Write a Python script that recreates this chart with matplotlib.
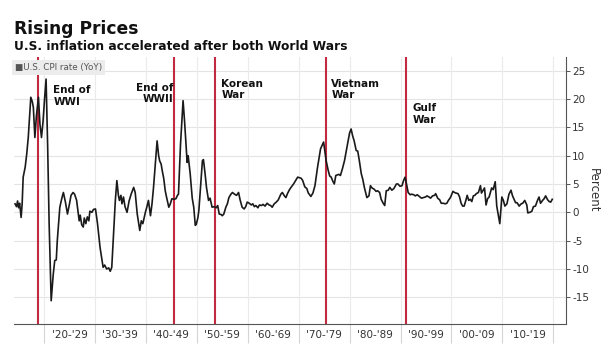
import matplotlib
matplotlib.use("Agg")
import matplotlib.pyplot as plt

# ---------------------------
# Data
# ---------------------------
years = [
    1914.3, 1914.6, 1914.8, 1915.0, 1915.2, 1915.5, 1915.7, 1915.9, 1916.3, 1916.6,
    1916.9, 1917.2, 1917.4, 1917.7, 1917.9, 1918.2, 1918.5, 1918.9, 1919.2, 1919.5,
    1919.8, 1920.1, 1920.4, 1920.7, 1921.0, 1921.4, 1921.8, 1922.1, 1922.4, 1922.6,
    1923.1, 1923.5, 1923.8, 1924.2, 1924.6, 1925.0, 1925.3, 1925.7, 1926.0, 1926.4,
    1926.9, 1927.1, 1927.4, 1927.7, 1927.9, 1928.2, 1928.5, 1928.8, 1929.0, 1929.4,
    1929.7, 1930.1, 1930.5, 1931.0, 1931.6, 1931.9, 1932.3, 1932.7, 1933.0, 1933.3,
    1934.0, 1934.3, 1934.6, 1934.8, 1935.1, 1935.3, 1935.6, 1935.9, 1936.3, 1936.7,
    1937.1, 1937.6, 1937.9, 1938.3, 1938.8, 1939.1, 1939.4, 1939.9, 1940.2, 1940.5,
    1940.9, 1941.2, 1941.5, 1941.9, 1942.2, 1942.5, 1942.7, 1943.0, 1943.2, 1943.5,
    1943.8, 1944.1, 1944.5, 1944.8, 1945.1, 1945.5, 1945.9, 1946.2, 1946.4, 1946.8,
    1947.3, 1947.6, 1947.9, 1948.1, 1948.3, 1948.7, 1949.1, 1949.4, 1949.7, 1949.9,
    1950.2, 1950.4, 1950.7, 1951.1, 1951.3, 1951.6, 1951.9, 1952.3, 1952.6, 1953.0,
    1953.4, 1953.8, 1954.1, 1954.4, 1954.8, 1955.0, 1955.3, 1955.7, 1956.0, 1956.3,
    1956.7, 1957.0, 1957.4, 1957.8, 1958.2, 1958.5, 1958.9, 1959.3, 1959.6, 1959.9,
    1960.3, 1960.7, 1961.0, 1961.3, 1961.6, 1962.0, 1962.3, 1962.7, 1963.0, 1963.4,
    1963.8, 1964.2, 1964.5, 1964.8, 1965.2, 1965.6, 1966.0, 1966.5, 1966.8, 1967.2,
    1967.5, 1967.8, 1968.2, 1968.5, 1969.0, 1969.4, 1969.8, 1970.2, 1970.5, 1970.8,
    1971.2, 1971.6, 1971.9, 1972.4, 1972.8, 1973.2, 1973.7, 1974.0, 1974.3, 1974.6,
    1974.9, 1975.2, 1975.4, 1975.8, 1976.1, 1976.4, 1976.7, 1977.0, 1977.3, 1977.6,
    1977.9, 1978.2, 1978.6, 1979.0, 1979.6, 1980.0, 1980.3, 1980.6, 1980.9, 1981.3,
    1981.6, 1981.9, 1982.3, 1982.6, 1982.9, 1983.4, 1983.8, 1984.1, 1984.4, 1984.8,
    1985.2, 1985.5, 1985.9, 1986.2, 1986.6, 1986.9, 1987.2, 1987.6, 1987.9, 1988.3,
    1988.7, 1989.2, 1989.5, 1989.9, 1990.3, 1990.6, 1990.9, 1991.2, 1991.5, 1991.9,
    1992.2, 1992.6, 1992.9, 1993.3, 1993.7, 1994.1, 1994.5, 1994.9, 1995.2, 1995.6,
    1995.9, 1996.3, 1996.7, 1996.9, 1997.3, 1997.7, 1998.0, 1998.4, 1998.8, 1999.1,
    1999.4, 1999.8, 2000.3, 2000.6, 2000.9, 2001.3, 2001.6, 2001.9, 2002.2, 2002.5,
    2002.8, 2003.1, 2003.4, 2003.7, 2004.0, 2004.3, 2004.6, 2004.9, 2005.3, 2005.7,
    2005.9, 2006.3, 2006.5, 2006.8, 2007.1, 2007.4, 2007.9, 2008.2, 2008.6, 2008.9,
    2009.2, 2009.5, 2009.9, 2010.2, 2010.5, 2010.9, 2011.3, 2011.7, 2012.0, 2012.3,
    2012.6, 2012.9, 2013.3, 2013.7, 2014.0, 2014.4, 2014.8, 2015.0, 2015.4, 2015.8,
    2016.1, 2016.5, 2016.9, 2017.2, 2017.5, 2017.9, 2018.2, 2018.5, 2018.9, 2019.2,
    2019.5, 2019.8,
]
cpi_yoy = [
    1.5, 1.0, 2.0, 0.8, 1.6, -0.9, 1.5, 6.2, 8.0, 10.3,
    13.2, 17.5, 20.3, 19.5, 18.5, 13.2, 17.0, 20.3, 15.5, 13.2,
    16.0, 20.0, 23.5, 12.0, -2.0, -15.6, -11.0, -8.5, -8.4, -5.0,
    0.9, 2.5, 3.5, 1.8, -0.3, 1.5, 3.0, 3.5, 3.2, 2.1,
    -1.5, -0.5, -2.2, -2.6, -1.0, -2.0, -0.8, -1.5, 0.2, 0.0,
    0.5, 0.6, -2.0, -6.2, -9.7, -9.3, -10.0, -9.8, -10.4, -9.7,
    2.1, 5.6, 3.0, 2.1, 3.0, 1.5, 2.7, 1.0, 0.0, 2.0,
    3.2, 4.4, 3.5, -0.3, -3.2, -1.5, -2.0, 0.0, 1.0, 2.1,
    -0.6, 1.5, 4.4, 9.0, 12.6, 10.0, 9.1, 8.5, 7.4, 6.0,
    3.8, 2.5, 0.9, 1.5, 2.4, 2.3, 2.4, 3.0, 3.2, 12.0,
    19.7, 16.0, 11.5, 8.8, 10.0, 6.8, 2.5, 0.9, -2.3, -2.1,
    -1.0, 0.3, 4.0, 9.1, 9.3, 7.0, 4.4, 2.1, 2.5, 0.9,
    1.0, 0.8, 1.2, -0.3, -0.4, -0.6, -0.3, 0.9, 1.5, 2.6,
    3.2, 3.5, 3.2, 3.0, 3.5, 2.2, 0.9, 0.6, 1.0, 1.8,
    1.6, 1.3, 1.5, 1.0, 1.2, 0.8, 1.3, 1.2, 1.4, 1.1,
    1.6, 1.3, 1.2, 0.9, 1.5, 1.8, 2.2, 3.2, 3.5, 2.9,
    2.6, 3.3, 4.0, 4.4, 5.0, 5.6, 6.2, 6.1, 6.0, 5.6,
    4.5, 4.2, 3.4, 2.8, 3.4, 4.7, 7.9, 9.5, 11.2, 11.8,
    12.4, 10.5, 9.1, 7.4, 6.4, 6.2, 5.5, 5.0, 6.5, 6.6,
    6.7, 6.5, 7.7, 9.1, 12.1, 14.0, 14.7, 13.5, 12.6, 10.9,
    10.8, 9.2, 6.8, 5.8, 4.4, 2.6, 2.9, 4.7, 4.3, 4.1,
    3.7, 3.8, 3.5, 2.3, 1.6, 1.2, 3.8, 3.9, 4.4, 3.9,
    4.2, 5.0, 5.0, 4.6, 4.7, 5.6, 6.2, 4.9, 3.5, 3.1,
    3.2, 3.1, 2.9, 3.1, 2.8, 2.5, 2.6, 2.7, 2.9, 2.7,
    2.5, 2.9, 3.0, 3.3, 2.5, 2.2, 1.6, 1.6, 1.5, 1.6,
    2.1, 2.6, 3.7, 3.5, 3.4, 3.3, 2.7, 1.6, 1.1, 1.1,
    2.0, 3.0, 2.1, 2.3, 1.9, 2.9, 3.0, 3.3, 3.5, 4.7,
    3.4, 4.0, 4.3, 1.3, 2.4, 2.7, 4.3, 4.0, 5.4, 1.1,
    -0.4, -2.0, 2.7, 2.1, 1.1, 1.5, 3.2, 3.9, 2.9, 2.3,
    1.7, 1.7, 1.1, 1.5, 1.6, 2.1, 1.3, -0.1, 0.0, 0.2,
    1.0, 1.1, 2.1, 2.7, 1.6, 2.1, 2.4, 2.9, 2.2, 1.9,
    1.8, 2.3,
]

war_ends = [1918.9, 1945.5, 1953.6, 1975.4, 1991.1]
war_labels = ["End of\nWWI", "End of\nWWII", "Korean\nWar", "Vietnam\nWar", "Gulf\nWar"]
label_x = [1921.8, 1945.5, 1954.8, 1976.4, 1992.3]
label_y = [22.4, 22.9, 23.6, 23.6, 19.2]
label_ha = ["left", "right", "left", "left", "left"]

decade_labels = ["'20-'29", "'30-'39", "'40-'49", "'50-'59", "'60-'69",
                 "'70-'79", "'80-'89", "'90-'99", "'00-'09", "'10-'19"]
decade_starts = [1920, 1930, 1940, 1950, 1960, 1970, 1980, 1990, 2000, 2010, 2020]
y_ticks = [-15, -10, -5, 0, 5, 10, 15, 20, 25]

# ---------------------------
# Figure
# ---------------------------
fig = plt.figure(figsize=(6.05, 3.53), dpi=100)
fig.patch.set_facecolor("white")
ax = fig.add_axes([14 / 605, 1 - 324 / 353, (566 - 14) / 605, (324 - 57) / 353])

ax.set_xlim(1914.1, 2022.5)
ax.set_ylim(-19.7, 27.4)

# grid
for y in y_ticks:
    ax.axhline(y, color="#e4e4e4", lw=0.8, zorder=0)
for d in decade_starts:
    ax.axvline(d, color="#ebebeb", lw=0.8, zorder=0)

# war markers
for w in war_ends:
    ax.axvline(w, color="#c22a42", lw=1.5, zorder=2)

ax.plot(years, cpi_yoy, color="#1a1a1a", lw=1.2, zorder=3)

for txt, x, y, ha in zip(war_labels, label_x, label_y, label_ha):
    ax.text(x, y, txt, ha=ha, va="top", fontsize=7.5, fontweight="bold",
            color="#111111", multialignment=ha, zorder=4)

# spines
for s in ["top", "left"]:
    ax.spines[s].set_visible(False)
ax.spines["bottom"].set_color("#555555")
ax.spines["right"].set_color("#555555")
ax.spines["bottom"].set_linewidth(0.8)
ax.spines["right"].set_linewidth(0.8)

# y axis on the right
ax.yaxis.tick_right()
ax.yaxis.set_label_position("right")
ax.set_yticks(y_ticks)
ax.set_yticklabels([str(v) for v in y_ticks])
ax.tick_params(axis="y", direction="out", length=3, width=0.7, color="#555555",
               labelsize=7.5, labelcolor="#333333", pad=1.5)
ax.set_ylabel("Percent", rotation=270, fontsize=8.5, color="#333333", labelpad=8)

# x axis: labels centered in each decade, separators at decade starts
ax.set_xticks([d + 5 for d in decade_starts[:-1]])
ax.set_xticklabels(decade_labels)
ax.set_xticks(decade_starts, minor=True)
ax.tick_params(axis="x", which="major", length=0, labelsize=7.5,
               labelcolor="#333333", pad=4)
ax.tick_params(axis="x", which="minor", length=14, width=0.8, color="#d5d5d5")

# legend box
fig.text(15 / 605, 1 - 67.5 / 353, "\u25A0U.S. CPI rate (YoY)", fontsize=6.3,
         color="#555555", va="center", ha="left",
         bbox=dict(boxstyle="square,pad=0.35", fc="#ececec", ec="none"))

# titles
fig.text(14 / 605, 1 - 34 / 353, "Rising Prices", fontsize=12.3,
         fontweight="bold", color="#111111", va="baseline")
fig.text(14 / 605, 1 - 49.5 / 353, "U.S. inflation accelerated after both World Wars",
         fontsize=8.8, fontweight="bold", color="#111111", va="baseline")

fig.savefig("out.png", dpi=100)
